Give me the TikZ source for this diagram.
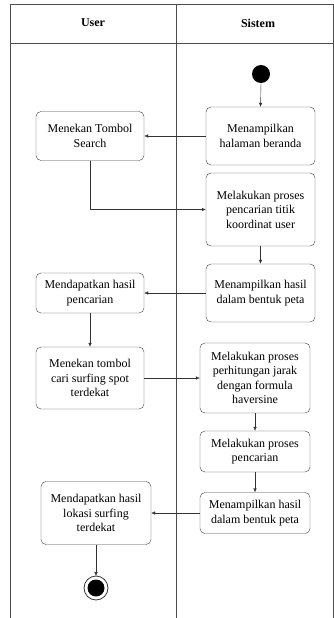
\documentclass[tikz,border=0pt]{standalone}
\usepackage{fontspec}
\setmainfont{Liberation Serif}
\usetikzlibrary{arrows.meta}

\begin{document}
\begin{tikzpicture}[x=1pt,y=-1pt,
		act/.style={draw=black!75,rounded corners=5pt,align=center,inner sep=0pt,
			font=\fontsize{12}{14.5}\selectfont},
		flow/.style={draw=black!80,-{Latex[length=4pt,width=3.5pt]}},
		lane/.style={draw=black!70,line width=0.8pt}]
		\useasboundingbox (0,0) rectangle (334,618);
		% swimlanes
		\draw [lane] (10,618) -- (10,4) -- (333,4) -- (333,618);
		\draw [lane] (10,43) -- (333,43);
		\draw [lane] (176,4) -- (176,618);
		\node (hUser) at (93,23) {\fontsize{12}{14}\selectfont\bfseries User};
		\node (hSistem) at (258,23) {\fontsize{12}{14}\selectfont\bfseries Sistem};
		% start
		\fill [black] (261,74) circle (9);
		\coordinate (start) at (261,83);
		% activities
		\node [act,minimum width=109pt,minimum height=58pt] (beranda) at (260.5,136) {Menampilkan\\halaman beranda};
		\node [act,minimum width=108pt,minimum height=49pt] (search) at (90,136) {Menekan Tombol\\Search};
		\node [act,minimum width=109pt,minimum height=73pt] (koordinat) at (260.5,209.5) {Melakukan proses\\pencarian titik\\koordinat user};
		\node [act,minimum width=109pt,minimum height=58pt] (petaA) at (260.5,293) {Menampilkan hasil\\dalam bentuk peta};
		\node [act,minimum width=108pt,minimum height=40pt] (hasil) at (90,293) {Mendapatkan hasil\\pencarian};
		\node [act,minimum width=108pt,minimum height=62pt] (tombol) at (90,378) {Menekan tombol\\cari surfing spot\\terdekat};
		\node [act,minimum width=110pt,minimum height=70pt] (jarak) at (255,378) {Melakukan proses\\perhitungan jarak\\dengan formula\\haversine};
		\node [act,minimum width=110pt,minimum height=41pt] (cari) at (255,451.5) {Melakukan proses\\pencarian};
		\node [act,minimum width=110pt,minimum height=41pt] (petaB) at (255,513) {Menampilkan hasil\\dalam bentuk peta};
		\node [act,minimum width=110pt,minimum height=63pt] (lokasi) at (96,513) {Mendapatkan hasil\\lokasi surfing\\terdekat};
		% end
		\draw [black!80,fill=white,line width=0.8pt] (96,588) circle (12);
		\fill [black] (96,588) circle (8.5);
		\coordinate (end) at (96,576);
		% flows
		\draw [flow] (start) -- (beranda.north);
		\draw [flow] (beranda.west) -- (search.east);
		\draw [flow] (search.south) |- (koordinat.west);
		\draw [flow] (koordinat.south) -- (petaA.north);
		\draw [flow] (petaA.west) -- (hasil.east);
		\draw [flow] (hasil.south) -- (tombol.north);
		\draw [flow] (tombol.east) -- (jarak.west);
		\draw [flow] (jarak.south) -- (cari.north);
		\draw [flow] (cari.south) -- (petaB.north);
		\draw [flow] (petaB.west) -- (lokasi.east);
		\draw [flow] (lokasi.south) -- (end);
	\end{tikzpicture}
\end{document}
